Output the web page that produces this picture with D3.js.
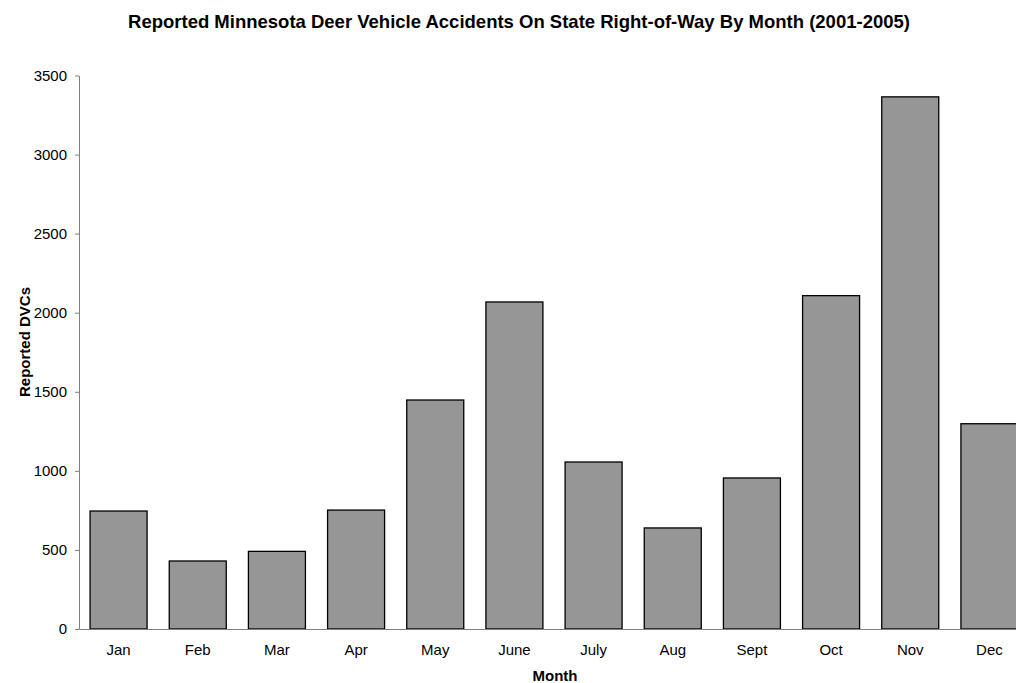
<!DOCTYPE html>
<html lang="en">
<head>
<meta charset="UTF-8">
<title>Deer vehicle accidents by month</title>
<script src="https://cdn.jsdelivr.net/npm/d3@7"></script>
<style>
  body { margin: 0; background: #fff; overflow: hidden; }
  text { font-family: "Liberation Sans", Arial, sans-serif; fill: #000; }
</style>
</head>
<body>
<div id="chart"></div>
<script>
// data
const months = ["Jan", "Feb", "Mar", "Apr", "May", "June", "July", "Aug", "Sept", "Oct", "Nov", "Dec"];
const dvcs = [746, 430, 491, 752, 1448, 2068, 1056, 639, 955, 2108, 3365, 1298];
const yTicks = [0, 500, 1000, 1500, 2000, 2500, 3000, 3500];

const W = 1016, H = 683;
// plot area runs past the right edge, like the original
const plot = {left: 79, top: 75.5, right: 1029, bottom: 629};

const svg = d3.select("#chart").append("svg")
    .attr("width", W)
    .attr("height", H);

const x = d3.scaleBand()
    .domain(months)
    .range([plot.left, plot.right])
    .paddingInner(0.28)
    .paddingOuter(0.14);

const y = d3.scaleLinear()
    .domain([0, 3500])
    .range([plot.bottom, plot.top]);

// bars
svg.append("g")
  .selectAll("rect")
  .data(months)
  .join("rect")
    .attr("x", d => x(d))
    .attr("y", (d, i) => y(dvcs[i]))
    .attr("width", x.bandwidth())
    .attr("height", (d, i) => y(0) - y(dvcs[i]))
    .attr("fill", "#969696")
    .attr("stroke", "#000")
    .attr("stroke-width", 1.3);

// y axis
const yAxis = svg.append("g")
    .attr("transform", `translate(${plot.left},0)`)
    .call(d3.axisLeft(y).tickValues(yTicks).tickFormat(d3.format("d"))
      .tickSize(4).tickPadding(8).tickSizeOuter(0));
yAxis.select(".domain").attr("stroke", "#808080");
yAxis.selectAll(".tick line").attr("stroke", "#808080");
yAxis.selectAll("text").style("font-size", "15px");

// x axis
const xAxis = svg.append("g")
    .attr("transform", `translate(0,${plot.bottom})`)
    .call(d3.axisBottom(x).tickSize(0).tickPadding(15));
xAxis.select(".domain").attr("stroke", "#808080");
xAxis.selectAll("text").style("font-size", "15px");

// titles
svg.append("text")
    .attr("x", 519)
    .attr("y", 28)
    .attr("text-anchor", "middle")
    .style("font-size", "18.5px")
    .style("font-weight", "bold")
    .text("Reported Minnesota Deer Vehicle Accidents On State Right-of-Way By Month (2001-2005)");

svg.append("text")
    .attr("x", 555)
    .attr("y", 681)
    .attr("text-anchor", "middle")
    .style("font-size", "15px")
    .style("font-weight", "bold")
    .text("Month");

svg.append("text")
    .attr("transform", "translate(30,342) rotate(-90)")
    .attr("text-anchor", "middle")
    .style("font-size", "15px")
    .style("font-weight", "bold")
    .text("Reported DVCs");
</script>
</body>
</html>
